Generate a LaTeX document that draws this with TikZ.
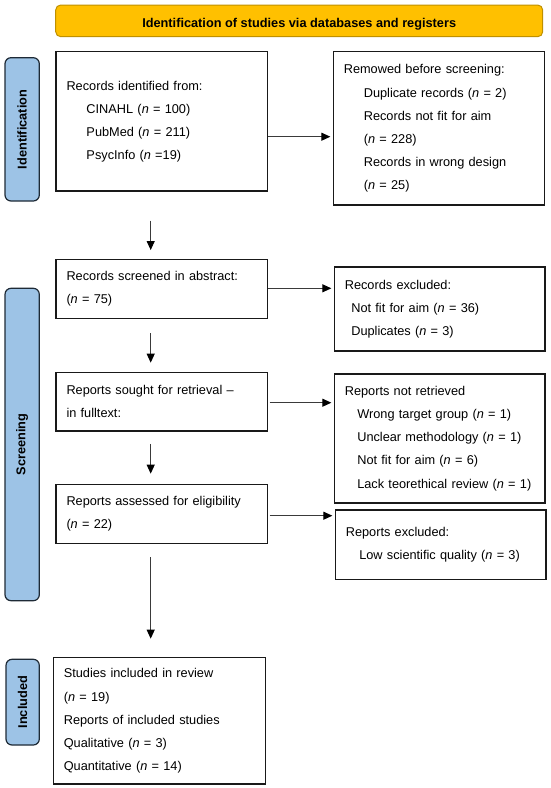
\documentclass[tikz,border=0pt]{standalone}
\usepackage{fontspec}
\setmainfont{Liberation Sans}
\usetikzlibrary{arrows.meta}
\definecolor{barfill}{HTML}{FFC000}
\definecolor{bardraw}{HTML}{BF9000}
\definecolor{sidefill}{HTML}{9DC3E6}
\definecolor{sidedraw}{HTML}{1E2A36}
\definecolor{arrcol}{HTML}{3A3A3A}
\newcommand{\nn}{\textit{n}}
\tikzset{
  txt/.style={font=\fontsize{12.75}{23.1}\selectfont},
  box/.style={txt, draw=black!90, line width=1.3pt, align=left, inner xsep=10.5pt, inner ysep=0pt},
  side/.style={font=\fontsize{12.75}{14}\selectfont\bfseries, draw=sidedraw, fill=sidefill, line width=1.2pt, rounded corners=6pt, rotate=90, inner sep=0pt},
  bar/.style={draw=bardraw, fill=barfill, line width=1pt, rounded corners=5pt, inner sep=0pt},
  arr/.style={draw=arrcol, line width=1pt, -{Triangle[length=9pt,width=8pt,color=black,fill=black]}},
}
\begin{document}
\begin{tikzpicture}[x=1pt,y=-1pt]
\useasboundingbox (0,0) rectangle (550,788);

% top bar
\node[bar, minimum width=487pt, minimum height=31.7pt] (bar) at (299.2,20.85) {};
\node[font=\fontsize{12.75}{14}\selectfont\bfseries, inner sep=0pt] (title) at (299.2,24) {Identification of studies via databases and registers};

% side labels
\node[side, minimum width=143.3pt, minimum height=34.3pt] (sid) at (22.15,129.35) {Identification};
\node[side, minimum width=312.4pt, minimum height=34.3pt] (sscr) at (22.15,444.5) {Screening};
\node[side, minimum width=85.7pt, minimum height=33.3pt] (sinc) at (22.65,702.15) {Included};

% left column
\node[box, text width=190.7pt, minimum height=139.3pt] (b1) at (161.85,121.35)
 {Records identified from:\\
  \hspace*{20pt}CINAHL (\nn{} = 100)\\
  \hspace*{20pt}PubMed (\nn{} = 211)\\
  \hspace*{20pt}PsycInfo (\nn{} =19)};
\node[box, text width=190.7pt, minimum height=59pt] (b3) at (161.85,288.8)
 {Records screened in abstract:\\
  (\nn{} = 75)};
\node[box, text width=190.7pt, minimum height=58.7pt] (b5) at (161.85,401.65)
 {Reports sought for retrieval --\\
  in fulltext:};
\node[box, text width=190.7pt, minimum height=59pt] (b7) at (161.85,513.8)
 {Reports assessed for eligibility\\
  (\nn{} = 22)};
\node[box, text width=191.4pt, minimum height=126.3pt] (b9) at (159.5,720.85)
 {Studies included in review\\
  (\nn{} = 19)\\
  Reports of included studies\\
  Qualitative (\nn{} = 3)\\
  Quantitative (\nn{} = 14)};

% right column
\node[box, text width=190pt, minimum height=153.3pt] (b2) at (438.8,128.35)
 {Remowed before screening:\\
  \hspace*{20pt}Duplicate records (\nn{} = 2)\\
  \hspace*{20pt}Records not fit for aim\\
  \hspace*{20pt}(\nn{} = 228)\\
  \hspace*{20pt}Records in wrong design\\
  \hspace*{20pt}(\nn{} = 25)};
\node[box, text width=189.7pt, minimum height=84pt] (b4) at (439.65,309)
 {Records excluded:\\
  \hspace*{6.5pt}Not fit for aim (\nn{} = 36)\\
  \hspace*{6.5pt}Duplicates (\nn{} = 3)};
\node[box, text width=189.7pt, minimum height=129pt] (b6) at (439.65,438.5)
 {Reports not retrieved\\
  \hspace*{12.5pt}Wrong target group (\nn{} = 1)\\
  \hspace*{12.5pt}Unclear methodology (\nn{} = 1)\\
  \hspace*{12.5pt}Not fit for aim (\nn{} = 6)\\
  \hspace*{12.5pt}Lack teorethical review (\nn{} = 1)};
\node[box, text width=189.7pt, minimum height=69.3pt] (b8) at (440.65,544.65)
 {Reports excluded:\\
  \hspace*{13.5pt}Low scientific quality (\nn{} = 3)};

% vertical arrows
\coordinate (ax) at (150.7,0);
\draw[arr, shorten <=29pt, shorten >=8.6pt] (b1.south -| ax) -- (b3.north -| ax);
\draw[arr, shorten <=14.4pt, shorten >=9pt] (b3.south -| ax) -- (b5.north -| ax);
\draw[arr, shorten <=12.3pt, shorten >=10pt] (b5.south -| ax) -- (b7.north -| ax);
\draw[arr, shorten <=13.4pt, shorten >=18.4pt] (b7.south -| ax) -- (b9.north -| ax);

% horizontal arrows
\coordinate (h1) at (0,136.7);
\coordinate (h2) at (0,288.3);
\coordinate (h3) at (0,402.7);
\coordinate (h4) at (0,515.7);
\draw[arr, shorten >=2.3pt] (b1.east |- h1) -- (b2.west |- h1);
\draw[arr, shorten >=2.3pt] (b3.east |- h2) -- (b4.west |- h2);
\draw[arr, shorten <=1.3pt, shorten >=2.3pt] (b5.east |- h3) -- (b6.west |- h3);
\draw[arr, shorten <=1.3pt, shorten >=2.3pt] (b7.east |- h4) -- (b8.west |- h4);
\end{tikzpicture}
\end{document}
